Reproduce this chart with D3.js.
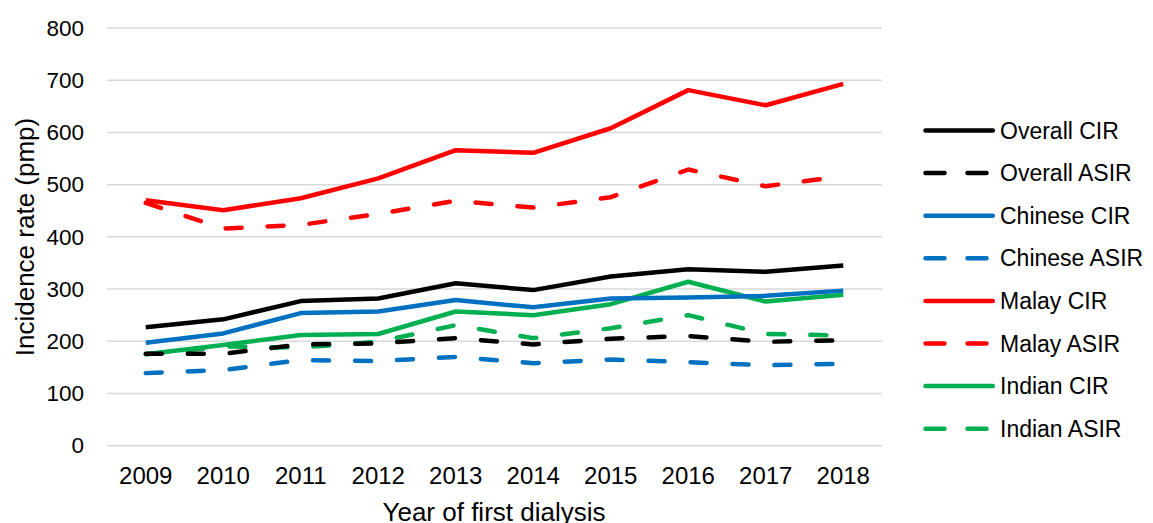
<!DOCTYPE html>
<html>
<head>
<meta charset="utf-8">
<script src="https://cdn.jsdelivr.net/npm/d3@7"></script>
<style>
  body { margin: 0; background: #fff; }
  text { font-family: "Liberation Sans", Arial, sans-serif; }
</style>
</head>
<body>
<svg id="chart" width="1153" height="523"></svg>
<script>
// data
let years = ["2009", "2010", "2011", "2012", "2013", "2014", "2015", "2016", "2017", "2018"];
let yTicks = [0, 100, 200, 300, 400, 500, 600, 700, 800];

let overallCIR  = [227, 242, 277, 282, 311, 298, 324, 338, 333, 345];
let overallASIR = [176, 176, 194, 196, 206, 194, 205, 210, 199, 202];
let chineseCIR  = [197, 215, 254, 257, 279, 265, 282, 284, 287, 297];
let chineseASIR = [139, 145, 164, 162, 170, 158, 165, 160, 154, 157];
let malayCIR    = [470, 451, 474, 512, 566, 561, 608, 681, 652, 693];
let malayASIR   = [465, 416, 423, 444, 469, 456, 476, 529, 497, 516];
let indianCIR   = [175, 193, 212, 214, 257, 250, 271, 314, 276, 289];
let indianASIR  = [175, 190, 188, 199, 231, 206, 225, 250, 214, 211];

let series = [
    {name: "Overall CIR", values: overallCIR, color: "#000000", dashed: false},
    {name: "Overall ASIR", values: overallASIR, color: "#000000", dashed: true},
    {name: "Chinese CIR", values: chineseCIR, color: "#0070C0", dashed: false},
    {name: "Chinese ASIR", values: chineseASIR, color: "#0070C0", dashed: true},
    {name: "Malay CIR", values: malayCIR, color: "#FF0000", dashed: false},
    {name: "Malay ASIR", values: malayASIR, color: "#FF0000", dashed: true},
    {name: "Indian CIR", values: indianCIR, color: "#00B050", dashed: false},
    {name: "Indian ASIR", values: indianASIR, color: "#00B050", dashed: true}
];

function makeChart(id) {
    let margins = {top: 28, left: 107};
    let innerWidth = 775;
    let innerHeight = 417.7;

    let chart = d3.select("#" + id);
    let g = chart.append("g").attr("transform", `translate(${margins.left},${margins.top})`);

    let xScale = d3.scaleBand().domain(years).range([0, innerWidth]);
    let yScale = d3.scaleLinear().domain([0, 800]).range([innerHeight, 0]);

    // gridlines
    g.selectAll(".grid").data(yTicks).enter().append("line")
        .attr("x1", 0).attr("x2", innerWidth)
        .attr("y1", d => yScale(d)).attr("y2", d => yScale(d))
        .style("stroke", "#d9d9d9").style("stroke-width", 1.5);

    let yAxis = g.append("g")
        .call(d3.axisLeft(yScale).tickValues(yTicks).tickSize(0).tickPadding(23));
    yAxis.select(".domain").remove();
    yAxis.selectAll("text").style("font-size", "22.5px").style("fill", "#000")
        .attr("font-family", "Liberation Sans, Arial, sans-serif");

    let xAxis = g.append("g")
        .attr("transform", `translate(0,${innerHeight})`)
        .call(d3.axisBottom(xScale).tickSize(0).tickPadding(21));
    xAxis.select(".domain").remove();
    xAxis.selectAll("text").style("font-size", "24px").style("fill", "#000")
        .attr("font-family", "Liberation Sans, Arial, sans-serif");

    let line = d3.line()
        .x((d, i) => xScale(years[i]) + xScale.bandwidth() / 2)
        .y(d => yScale(d));

    // draw in reverse so the overall series sit on top
    series.slice().reverse().forEach(s => {
        g.append("path")
            .datum(s.values)
            .attr("d", line)
            .style("fill", "none")
            .style("stroke", s.color)
            .style("stroke-width", 4.5)
            .style("stroke-linecap", s.dashed ? "round" : "butt")
            .style("stroke-linejoin", "round")
            .style("stroke-dasharray", s.dashed ? "16,26" : null);
    });

    // axis titles
    chart.append("text")
        .attr("transform", "translate(34,237) rotate(-90)")
        .attr("text-anchor", "middle")
        .style("font-size", "26px")
        .text("Incidence rate (pmp)");

    chart.append("text")
        .attr("x", 494).attr("y", 521)
        .attr("text-anchor", "middle")
        .style("font-size", "26px")
        .text("Year of first dialysis");

    // legend
    let legend = chart.selectAll(".legend").data(series).enter().append("g")
        .attr("class", "legend")
        .attr("transform", (d, i) => `translate(925.5,${130.5 + i * 42.6})`);

    legend.append("line")
        .attr("x1", 0).attr("x2", 67.3).attr("y1", 0).attr("y2", 0)
        .style("stroke", d => d.color)
        .style("stroke-width", 4.5)
        .style("stroke-linecap", "round")
        .style("stroke-dasharray", d => d.dashed ? "19,23" : null);

    legend.append("text")
        .attr("x", 74.5).attr("y", 8)
        .style("font-size", "23px")
        .text(d => d.name);
}

makeChart("chart");
</script>
</body>
</html>
